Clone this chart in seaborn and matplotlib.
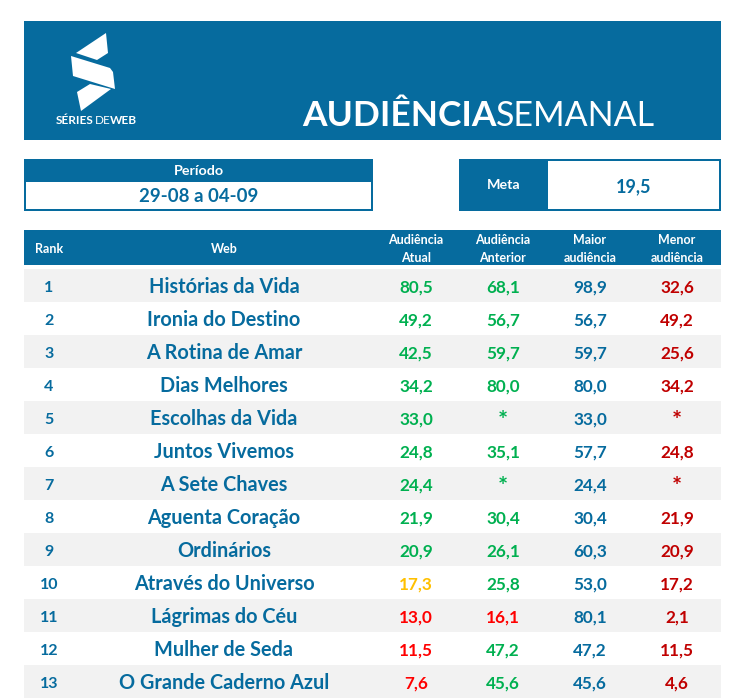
"""
Audiencia semanal – Series de Web
=======================
Output  : out.png
"""

import matplotlib.pyplot as plt
import seaborn as sns

from matplotlib.colors import ListedColormap

# ─────────────────────────────────────────────
# CONSTANTS
# ─────────────────────────────────────────────
RANKS = list(range(1, 14))

WEBS = [
    "Histórias da Vida",
    "Ironia do Destino",
    "A Rotina de Amar",
    "Dias Melhores",
    "Escolhas da Vida",
    "Juntos Vivemos",
    "A Sete Chaves",
    "Aguenta Coração",
    "Ordinários",
    "Através do Universo",
    "Lágrimas do Céu",
    "Mulher de Seda",
    "O Grande Caderno Azul",
]

ATUAL    = ["80,5", "49,2", "42,5", "34,2", "33,0", "24,8", "24,4", "21,9", "20,9", "17,3", "13,0", "11,5", "7,6"]
ANTERIOR = ["68,1", "56,7", "59,7", "80,0", "*", "35,1", "*", "30,4", "26,1", "25,8", "16,1", "47,2", "45,6"]
MAIOR    = ["98,9", "56,7", "59,7", "80,0", "33,0", "57,7", "24,4", "30,4", "60,3", "53,0", "80,1", "47,2", "45,6"]
MENOR    = ["32,6", "49,2", "25,6", "34,2", "*", "24,8", "*", "21,9", "20,9", "17,2", "2,1", "11,5", "4,6"]

HEADERS = ["Rank", "Web", "Audiência\nAtual", "Audiência\nAnterior", "Maior\naudiência", "Menor\naudiência"]

PERIODO = "29-08 a 04-09"
META    = "19,5"

BLUE   = "#066B9E"
GREEN  = "#00B050"
YELLOW = "#FFC000"
RED    = "#FF0000"
DARK   = "#C00000"
GREY   = "#F2F2F2"

COL_X = [49, 224, 416, 503, 590, 677]  # centres, in pixels


def colour_atual(value):
    v = float(value.replace(",", "."))
    if v >= 19.5:
        return GREEN
    return YELLOW if v >= 15 else RED


def colour_anterior(value):
    if value == "*":
        return GREEN
    v = float(value.replace(",", "."))
    return GREEN if v >= 19.5 else RED


def put_value(ax, x, y, value, colour):
    # the asterisk is a small glyph set high in the font
    if value == "*":
        ax.text(x, y + 3, value, color=colour, fontsize=17, fontweight="bold", ha="center", va="center")
    else:
        ax.text(x, y + 1, value, color=colour, fontsize=12.3, fontweight="bold", ha="center", va="center")


# ─────────────────────────────────────────────
# 1. BANNER
# ─────────────────────────────────────────────
def draw_banner(ax):
    ax.fill([24, 721, 721, 24], [21, 21, 140, 140], color=BLUE, lw=0)
    # logo
    ax.fill([76, 106, 108, 97], [53, 33, 53, 60], color="white", lw=0)
    ax.fill([71, 110, 113, 115, 73], [56, 68, 72, 89, 76], color="white", lw=0)
    ax.fill([77, 90, 111, 81], [92, 84, 89, 111], color="white", lw=0)
    ax.text(56, 121, "SÉRIES", color="white", fontsize=8.5, fontweight="bold", va="center")
    ax.text(95, 121, "DE", color="white", fontsize=8.5, va="center")
    ax.text(110, 121, "WEB", color="white", fontsize=8.5, fontweight="bold", va="center")
    # title
    ax.text(302, 116, "AUDIÊNCIA", color="white", fontsize=25.5, fontweight="bold", va="center")
    ax.text(496, 116, "SEMANAL", color="white", fontsize=24.5, va="center")


def draw_boxes(ax):
    ax.fill([24, 373, 373, 24], [159, 159, 211, 211], color=BLUE, lw=0)
    ax.fill([26, 371, 371, 26], [182, 182, 209, 209], color="white", lw=0)
    ax.text(199, 171, "Período", color="white", fontsize=10.3, fontweight="bold", ha="center", va="center")
    ax.text(199, 197, PERIODO, color=BLUE, fontsize=13.4, fontweight="bold", ha="center", va="center")

    ax.fill([459, 721, 721, 459], [159, 159, 211, 211], color=BLUE, lw=0)
    ax.fill([548, 719, 719, 548], [161, 161, 209, 209], color="white", lw=0)
    ax.text(504, 185, "Meta", color="white", fontsize=10.3, fontweight="bold", ha="center", va="center")
    ax.text(634, 187, META, color=BLUE, fontsize=13, fontweight="bold", ha="center", va="center")


# ─────────────────────────────────────────────
# 2. TABLE
# ─────────────────────────────────────────────
def draw_table(ax):
    ax.fill([24, 721, 721, 24], [230, 230, 265, 265], color=BLUE, lw=0)
    for x, head in zip(COL_X, HEADERS):
        ax.text(x, 249, head, color="white", fontsize=9, fontweight="bold",
                ha="center", va="center", linespacing=1.55)

    for i, rank in enumerate(RANKS):
        y = 287 + 33 * i
        ax.text(COL_X[0], y + 1, str(rank), color=BLUE, fontsize=11.5, fontweight="bold", ha="center", va="center")
        ax.text(COL_X[1], y, WEBS[i], color=BLUE, fontsize=14.3, fontweight="bold", ha="center", va="center")
        put_value(ax, COL_X[2], y, ATUAL[i], colour_atual(ATUAL[i]))
        put_value(ax, COL_X[3], y, ANTERIOR[i], colour_anterior(ANTERIOR[i]))
        put_value(ax, COL_X[4], y, MAIOR[i], BLUE)
        put_value(ax, COL_X[5], y, MENOR[i], DARK)


# ─────────────────────────────────────────────
# MAIN
# ─────────────────────────────────────────────
if __name__ == "__main__":
    sns.set_theme(style="white")
    plt.rcParams["font.family"] = ["Lato", "DejaVu Sans"]

    plt.figure(figsize=(7.48, 7.0), dpi=100)

    # striped rows: one heatmap cell per row
    stripes = [[(i + 1) % 2] for i in range(len(RANKS))]
    plt.axes([24 / 748, 1 - 698 / 700, 697 / 748, 429 / 700])
    sns.heatmap(stripes, cmap=ListedColormap(["white", GREY]), cbar=False,
                xticklabels=False, yticklabels=False, vmin=0, vmax=1)

    # overlay in pixel coordinates
    ax = plt.axes([0, 0, 1, 1], facecolor="none")
    ax.set_xlim(0, 748)
    ax.set_ylim(700, 0)
    ax.axis("off")

    draw_banner(ax)
    draw_boxes(ax)
    draw_table(ax)

    plt.savefig("out.png", dpi=100)
    plt.close()
